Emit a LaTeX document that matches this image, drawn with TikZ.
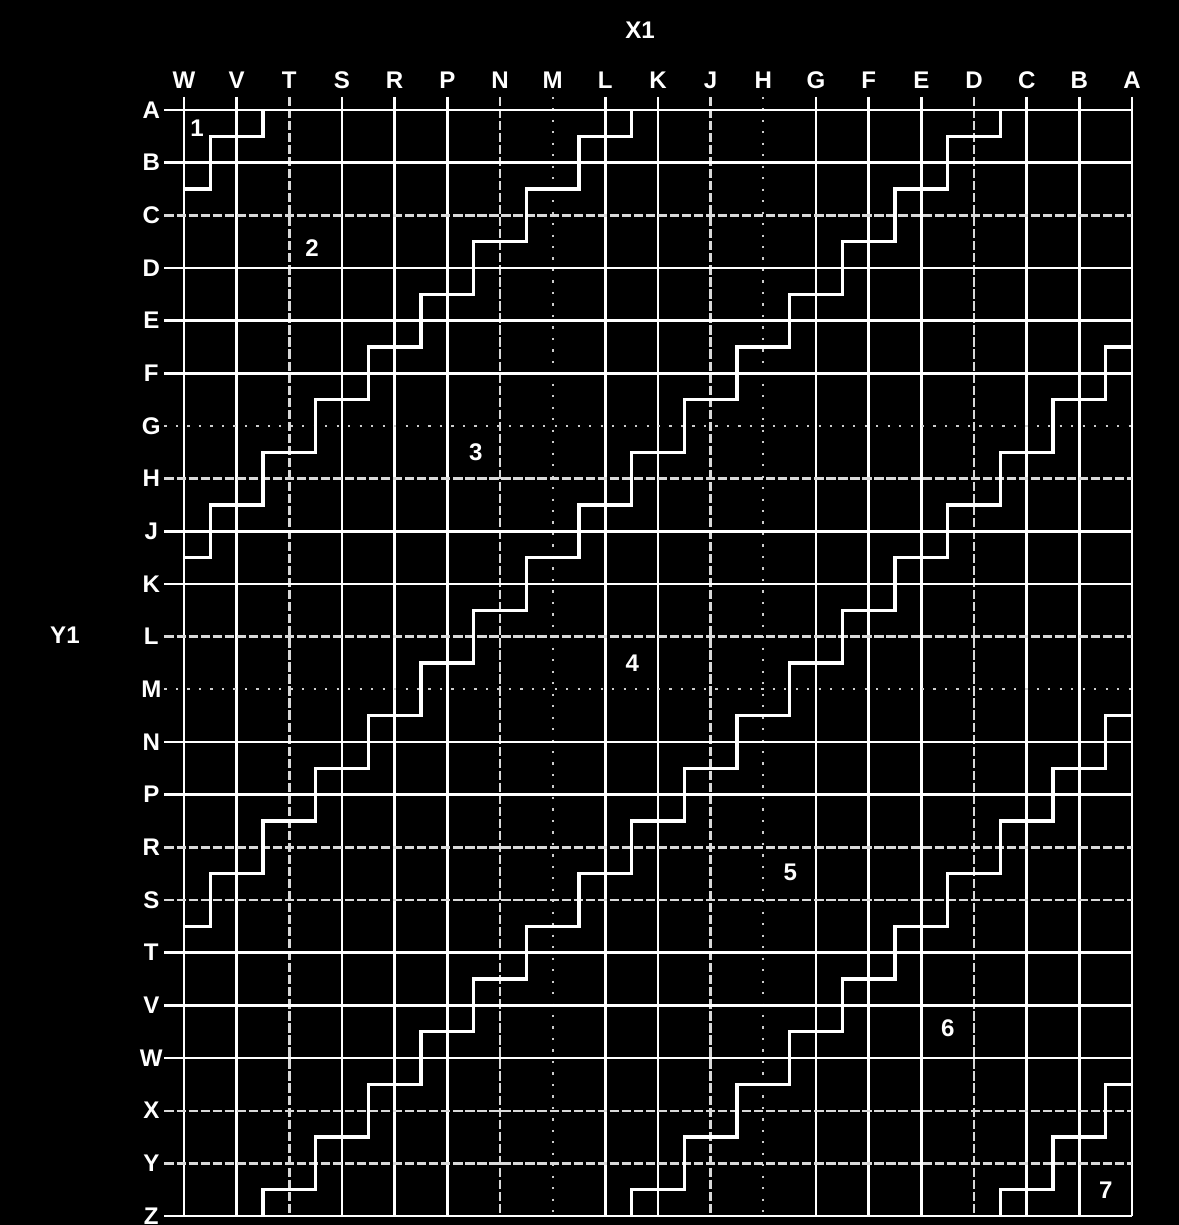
\documentclass[tikz,border=0pt]{standalone}
\usepackage{fontspec}
\setsansfont{Liberation Sans}
\usetikzlibrary{backgrounds}

\begin{document}
\begin{tikzpicture}[
  gridsolid/.style={draw=white,line width=1.5pt},
  griddash/.style={draw=white!85!black,line width=1.3pt,dash pattern=on 5pt off 1.5pt},
  griddot/.style={draw=white!80!black,line width=1.2pt,dash pattern=on 1.2pt off 5pt},
  stair/.style={draw=white,line width=1.9pt,line join=miter},
  letterlab/.style={text=white,font=\sffamily\bfseries\fontsize{13}{15}\selectfont,inner sep=0pt},
  zone/.style={text=white,font=\sffamily\bfseries\fontsize{13}{15}\selectfont,inner sep=0pt}
]
  \fill[black] (-3.493,2.088) rectangle (18.89,-21.17);
  \useasboundingbox (-3.493,2.088) rectangle (18.89,-21.17);

  % columns X1
  \foreach \lab/\sty [count=\i from 0] in {W/gridsolid,V/gridsolid,T/griddash,S/gridsolid,
      R/gridsolid,P/gridsolid,N/griddash,M/griddot,L/gridsolid,K/gridsolid,J/griddash,
      H/griddot,G/gridsolid,F/gridsolid,E/gridsolid,D/griddash,C/gridsolid,B/gridsolid,A/gridsolid}
  {
    \draw[\sty] (\i,0.25) -- (\i,-21);
    \node[letterlab] (col\lab) at (\i,0.57) {\lab};
  }

  % rows Y1
  \foreach \lab/\sty [count=\j from 0] in {A/gridsolid,B/gridsolid,C/griddash,D/gridsolid,
      E/gridsolid,F/gridsolid,G/griddot,H/griddash,J/gridsolid,K/gridsolid,L/griddash,
      M/griddot,N/gridsolid,P/gridsolid,R/griddash,S/griddash,T/gridsolid,V/gridsolid,
      W/gridsolid,X/griddash,Y/griddash,Z/gridsolid}
  {
    \draw[\sty] (-0.37,-\j) -- (18,-\j);
    \node[letterlab] (row\lab) at (-0.62,-\j) {\lab};
  }

  \node[letterlab] (xaxis) at (8.66,1.52) {X1};
  \node[letterlab] (yaxis) at (-2.26,-9.97) {Y1};

  % staircase boundaries
  \begin{scope}
    \clip (0,0) rectangle (18,-21);
    \foreach \c in {2,9,16,23,30,37}
      \draw[stair] (\c+0.5,0.5) \foreach \n in {0,...,\c} {-- ++(-1,0) -- ++(0,-1)};
  \end{scope}

  \foreach \n/\x/\y in {1/0.25/0.34,2/2.43/2.62,3/5.54/6.49,4/8.51/10.5,
      5/11.51/14.47,6/14.5/17.43,7/17.5/20.5}
    \node[zone] (zone\n) at (\x,-\y) {\n};
\end{tikzpicture}
\end{document}
